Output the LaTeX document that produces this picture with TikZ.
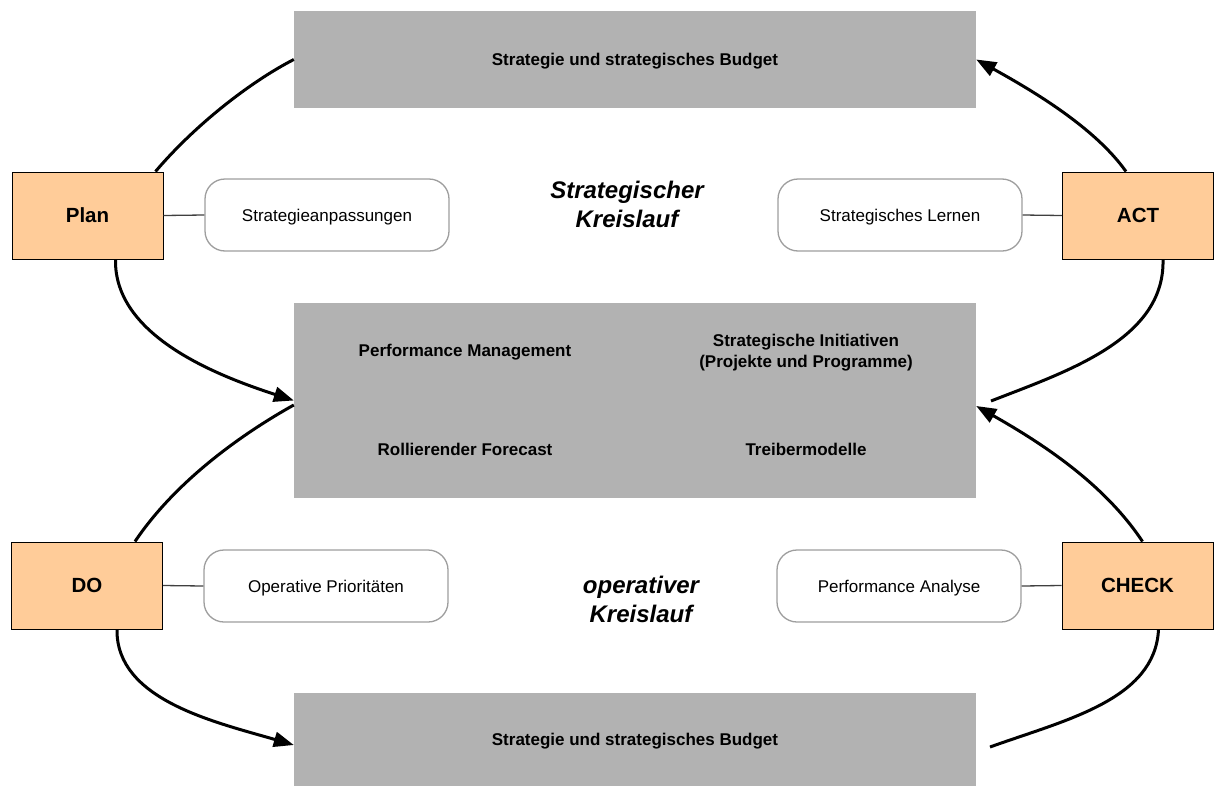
\documentclass[tikz,border=0pt]{standalone}
\usepackage{fontspec}
\setmainfont{Liberation Sans}
\usetikzlibrary{arrows.meta}
\definecolor{panelgray}{HTML}{B2B2B2}
\definecolor{phaseorange}{HTML}{FFCC99}
\definecolor{pillborder}{HTML}{9E9E9E}
\definecolor{linkgray}{HTML}{404040}
\begin{document}
\begin{tikzpicture}[x=1pt,y=-1pt,
  panel/.style={fill=panelgray,draw=none,inner sep=0pt,minimum width=682pt,
    text height=12.2pt,text depth=0pt,
    font=\fontsize{17}{20}\selectfont\bfseries,align=center},
  paneltext/.style={inner sep=0pt,font=\fontsize{17}{21}\selectfont\bfseries,align=center},
  phase/.style={fill=phaseorange,draw=black,line width=1pt,inner sep=0pt,
    minimum width=151pt,minimum height=87pt,font=\fontsize{20.5}{24}\selectfont\bfseries},
  pill/.style={draw=pillborder,line width=1.3pt,fill=white,rounded corners=20pt,inner sep=0pt,
    minimum width=244pt,minimum height=72pt,text height=12.2pt,text depth=0pt,
    font=\fontsize{17}{20}\selectfont},
  link/.style={draw=linkgray,line width=1.3pt},
  cycle/.style={inner sep=0pt,align=center,font=\fontsize{24}{29}\selectfont\bfseries\itshape},
  flow/.style={line width=3pt},
  tip/.style={-{Triangle[length=20pt,width=15pt]}}
]
\useasboundingbox (0,0) rectangle (1214,787);

% gray panels
\node[panel,minimum height=97pt] (top) at (635,59.5) {Strategie und strategisches Budget};
\node[panel,minimum height=195pt] (mid) at (635,400.5) {};
\node[panel,minimum height=93pt] (bot) at (635,739.5) {Strategie und strategisches Budget};

% contents of the middle panel
\node[paneltext] (pm) at (465,352.5) {Performance Management};
\node[paneltext] (si) at (806,353) {Strategische Initiativen\\(Projekte und Programme)};
\node[paneltext] (rf) at (465,449) {Rollierender Forecast};
\node[paneltext] (tm) at (806,449) {Treibermodelle};

% PDCA phases
\node[phase] (plan)  at (87.5,215.5) {Plan};
\node[phase] (act)   at (1138,215.5) {ACT};
\node[phase] (do)    at (87,585.5) {DO};
\node[phase] (check) at (1137.5,585.5) {CHECK};

% activities
\node[pill] (anp)  at (327,215) {Strategieanpassungen};
\node[pill] (lern) at (900,215) {Strategisches Lernen};
\node[pill] (prio) at (326,586) {Operative Prioritäten};
\node[pill] (ana)  at (899,586) {Performance Analyse};

\draw[link] (plan.east) -- (anp.west);
\draw[link] (act.west) -- (lern.east);
\draw[link] (do.east) -- (prio.west);
\draw[link] (check.west) -- (ana.east);

% cycle titles
\node[cycle] (sk) at (627,204.5) {Strategischer\\Kreislauf};
\node[cycle] (ok) at (641,599) {operativer\\Kreislauf};

% free ends of the open curves
\coordinate (actend) at (991,401);
\coordinate (checkend) at (990,747);

% strategic cycle
\draw[flow] ([xshift=-8pt]plan.north east) .. controls (195,125) and (250,82) .. (top.west);
\draw[flow,tip] ([xshift=-12pt]act.north) .. controls (1095,128) and (1035,92) .. (top.east);
\draw[flow,tip] ([xshift=104pt]plan.south west) .. controls (114,335) and (215,375) .. (mid.west);
\draw[flow] ([xshift=25pt]act.south) .. controls (1165,340) and (1065,372) .. (actend);

% operative cycle
\draw[flow] ([xshift=124pt]do.north west) .. controls (175,482) and (240,435) .. ([yshift=-4.5pt]mid.west);
\draw[flow,tip] ([xshift=5pt]check.north) .. controls (1105,485) and (1045,445) .. ([yshift=-5.5pt]mid.east);
\draw[flow,tip] ([xshift=106pt]do.south west) .. controls (116,700) and (215,722) .. ([yshift=-5.5pt]bot.west);
\draw[flow] ([xshift=21pt]check.south) .. controls (1155,700) and (1065,720) .. (checkend);
\end{tikzpicture}
\end{document}
